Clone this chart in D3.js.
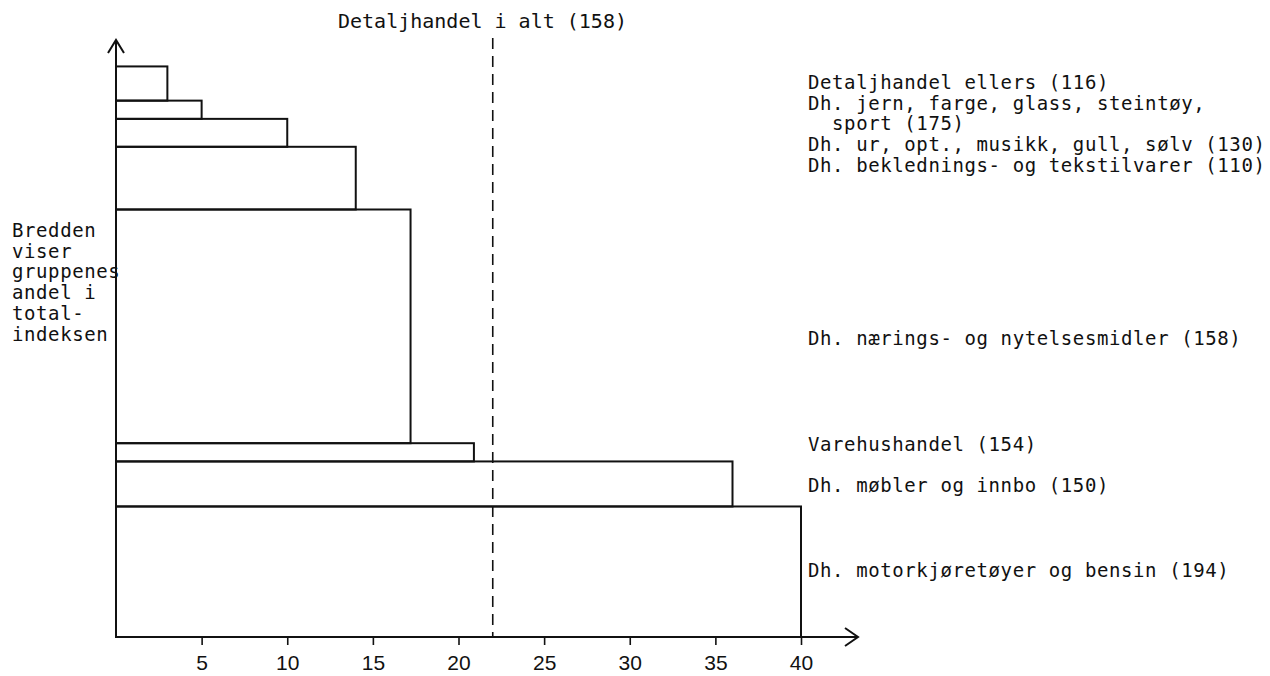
<!DOCTYPE html>
<html>
<head>
<meta charset="utf-8">
<script src="https://cdnjs.cloudflare.com/ajax/libs/d3/7.8.5/d3.min.js"></script>
<style>
  body { margin: 0; background: #fff; }
  svg text { font-family: "DejaVu Sans Mono", "Liberation Mono", monospace; fill: #111; white-space: pre; }
  .tick text { font-family: "Liberation Sans Narrow", "Liberation Sans", sans-serif; }
</style>
</head>
<body>
<div id="chart"></div>
<script>
// groups, top to bottom
var groupLabels = [
  ['Detaljhandel ellers (116)'],
  ['Dh. jern, farge, glass, steintøy,', '  sport (175)'],
  ['Dh. ur, opt., musikk, gull, sølv (130)'],
  ['Dh. beklednings- og tekstilvarer (110)'],
  ['Dh. nærings- og nytelsesmidler (158)'],
  ['Varehushandel (154)'],
  ['Dh. møbler og innbo (150)'],
  ['Dh. motorkjøretøyer og bensin (194)']
];
// bar length along the x axis
var groupValues = [3, 5, 10, 14, 17.2, 20.9, 36, 40];
// share of the total index (bar thickness), percent
var groupShares = [6, 3.2, 4.9, 11, 41, 3.2, 7.9, 22.9];

var totalLabel = 'Detaljhandel i alt (158)';
var totalValue = 22;
var xTicks = [5, 10, 15, 20, 25, 30, 35, 40];
var sideNote = ['Bredden', 'viser', 'gruppenes', 'andel i', 'total-', 'indeksen'];

(function() {
  var W = 1270, H = 676;
  var x0 = 116, yBase = 637;

  var svg = d3.select('#chart').append('svg')
      .attr('width', W)
      .attr('height', H);

  var x = d3.scaleLinear().domain([0, 40]).range([x0, 801]);
  var y = d3.scaleLinear().domain([0, 100]).range([yBase, 67]);

  // stack shares from the bottom up
  var rows = [];
  var acc = 0;
  for (var i = groupValues.length - 1; i >= 0; i--) {
    rows[i] = { value: groupValues[i], lo: acc, hi: acc + groupShares[i], lines: groupLabels[i] };
    acc += groupShares[i];
  }

  svg.append('g').selectAll('rect')
      .data(rows)
      .enter().append('rect')
      .attr('x', x(0))
      .attr('y', function(d) { return y(d.hi); })
      .attr('width', function(d) { return x(d.value) - x(0); })
      .attr('height', function(d) { return y(d.lo) - y(d.hi); })
      .attr('fill', 'none')
      .attr('stroke', '#111')
      .attr('stroke-width', 2);

  // x axis
  var xAxis = d3.axisBottom(x).tickValues(xTicks).tickSize(8).tickPadding(10).tickFormat(d3.format('d'));
  var gx = svg.append('g').attr('transform', 'translate(0,' + yBase + ')').call(xAxis);
  gx.select('.domain').remove();
  gx.selectAll('.tick line').attr('stroke', '#111').attr('stroke-width', 1.6);
  gx.selectAll('.tick text').attr('font-size', 21).attr('fill', '#111');

  var ax = svg.append('g').attr('stroke', '#111').attr('stroke-width', 2).attr('fill', 'none');
  ax.append('path').attr('d', 'M' + x0 + ',' + yBase + 'H858');
  ax.append('path').attr('d', 'M845,628L858,' + yBase + 'L845,646');
  ax.append('path').attr('d', 'M' + x0 + ',' + (yBase + 1) + 'V40');
  ax.append('path').attr('d', 'M' + (x0 - 8) + ',53L' + x0 + ',40L' + (x0 + 8) + ',53');

  // total line
  svg.append('line')
      .attr('x1', x(totalValue)).attr('x2', x(totalValue))
      .attr('y1', 38).attr('y2', yBase)
      .attr('stroke', '#111')
      .attr('stroke-width', 1.6)
      .attr('stroke-dasharray', '11,7');

  svg.append('text')
      .attr('x', 338).attr('y', 28)
      .attr('font-size', 20)
      .text(totalLabel);

  // typewriter text: slightly smaller glyphs, same pitch, so lines don't collide
  var typed = function(sel) {
    return sel.attr('font-size', 19).attr('letter-spacing', 0.6);
  };

  // right-hand labels: first block stacked, the rest near their bars
  var lineH = 20.7;
  var labelTops = [89, 89 + lineH, 89 + lineH * 3, 89 + lineH * 4, 345, 451, 492, 577];
  var lab = svg.append('g');
  rows.forEach(function(r, k) {
    r.lines.forEach(function(t, j) {
      typed(lab.append('text')
          .attr('x', 808)
          .attr('y', labelTops[k] + j * lineH))
          .text(t);
    });
  });

  typed(svg.append('g').selectAll('text')
      .data(sideNote)
      .enter().append('text')
      .attr('x', 12)
      .attr('y', function(d, k) { return 237 + k * lineH; }))
      .text(function(d) { return d; });
}());
</script>
</body>
</html>
